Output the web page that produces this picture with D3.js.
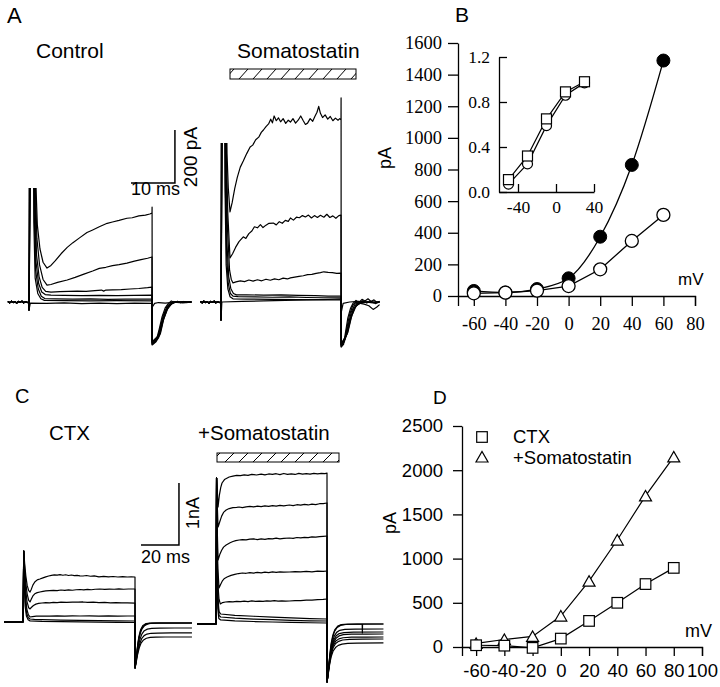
<!DOCTYPE html>
<html><head><meta charset="utf-8">
<script src="https://cdn.jsdelivr.net/npm/d3@7"></script>
<style>body{margin:0;background:#fff}svg{display:block}</style>
</head><body>
<script>
// ---------------- DATA ----------------
// Panel B: I-V (pA vs mV)
const ivVoltageB = [-60,-40,-20,0,20,40,60];
const ivSomaB = [32,22,44,112,375,829,1489];      // filled circles
const ivControlB = [17,21,34,63,169,348,513];     // open circles
const ticksBx = [-60,-40,-20,0,20,40,60,80];
const ticksBy = [0,200,400,600,800,1000,1200,1400,1600];
// Panel B inset: normalized activation
const insetVoltage = [-50,-30,-10,10,30];
const insetCircles = [0.07,0.25,0.59,0.86,0.97];
const insetSquares = [0.11,0.32,0.65,0.89,0.98];
const ticksInsetX = [-40,0,40];
const ticksInsetY = [0,0.4,0.8,1.2];
// Panel D: I-V
const ivVoltageD = [-60,-40,-20,0,20,40,60,80];
const ivCtxD = [20,15,-10,95,295,500,712,895];
const ivCtxSomaD = [40,85,120,350,745,1210,1710,2150];
const ticksDx = [-60,-40,-20,0,20,40,60,80,100];
const ticksDy = [0,500,1000,1500,2000,2500];
const legendD = ["CTX","+Somatostatin"];

// Panel A traces: [time ms, current pA]  (transients saturate and are clipped)
const preA = [[-4.8,2],[-4.4,-3],[-4,3],[-3.6,-2],[-3.2,1],[-2.8,-4],[-2.4,2],[-2,-1],[-1.6,3],[-1.2,-3],[-0.8,1],[-0.4,-2],[0,0]];
const ctlA1 = [[0,-30],[0.1,900],[1.4,900],[1.6,430],[1.9,290],[2.5,200],[3.2,150],[4.1,128],[5,138],[6,156],[7.3,182],[8.7,206],[10,224],[11.5,242],[13.2,262],[14.5,272],[16,284],[17.8,297],[19,302],[20.5,308],[22.3,316],[23.5,318],[25,325],[26.5,328],[27.5,332],[28,336],[28.02,358]];
const ctlA2 = [[0,-30],[0.2,900],[1.3,900],[1.5,400],[1.8,240],[2.4,140],[3.2,85],[4.1,64],[5,66],[6.5,74],[8.7,83],[10.5,93],[12.5,105],[14.5,117],[16,127],[17.5,131],[19,137],[20.5,141],[22.3,147],[24,154],[25.5,160],[27,165],[28,170]];
const ctlA3 = [[0,-30],[0.3,900],[1.2,900],[1.4,380],[1.7,180],[2.3,95],[3,55],[3.8,40],[5,37],[7,39],[9,40],[11,41],[13,40],[15,43],[16.5,45],[17,41],[17.5,45],[19,46],[21,47],[23,49],[25,51],[27,54],[28,56]];
const ctlA4 = [[0,-30],[0.4,900],[1.1,900],[1.3,360],[1.6,150],[2.2,70],[2.9,38],[3.7,28],[5,26],[8,25],[12,24],[16,25],[20,24],[24,25],[28,26]];
const ctlA5 = [[0,-30],[0.5,900],[1.0,900],[1.2,330],[1.5,120],[2.1,50],[2.8,22],[3.6,13],[6,12],[10,11],[14,12],[18,10],[22,11],[28,11]];
const ctlA6 = [[0,-30],[0.6,900],[0.9,900],[1.1,300],[1.4,90],[2,32],[2.7,12],[3.5,6],[8,5],[14,4],[20,5],[28,4]];
const ctlA7 = [[0,-30],[0.3,-4],[4,-5],[8,-3],[12,-6],[16,-4],[20,-6],[24,-4],[28,-5]];
const tailCtlA1 = [[28.04,-162],[28.9,-150],[29.6,-105],[30.3,-55],[31,-22],[31.7,-6],[32.4,4],[33.1,-2],[33.8,3],[34.5,-3],[35.2,2],[35.9,-2],[36.6,1],[37,0]];
const tailCtlA2 = [[28.04,-160],[29.1,-145],[29.9,-95],[30.6,-48],[31.4,-18],[32.2,-4],[33,2],[34,-1],[35,2],[36,-1],[37,1]];
const tailCtlA3 = [[28.04,-158],[29.3,-140],[30.1,-88],[30.9,-42],[31.7,-15],[32.6,-3],[33.5,1],[34.5,-2],[35.5,1],[37,0]];
const tailCtlA4 = [[28.04,-155],[29.5,-135],[30.3,-80],[31.1,-36],[32,-12],[33,-2],[34,1],[35.5,-1],[37,0]];
const tailCtlA5 = [[28.04,-152],[29.7,-128],[30.5,-72],[31.4,-30],[32.3,-8],[33.3,0],[35,1],[37,0]];
const tailCtlA6 = [[28.04,-150],[29.9,-120],[30.7,-62],[31.6,-24],[32.6,-5],[33.6,0],[37,0]];
const tailCtlA7 = [[28.04,-20],[28.6,-5],[29.5,-2],[31,-4],[33,-1],[35,-3],[37,-1]];

const somA1 = [[0,-68],[0.1,1200],[1.1,1200],[1.4,560],[1.7,430],[2.1,340],[2.6,375],[3.2,428],[3.8,470],[4.5,509],[5.2,532],[6,560],[6.8,585],[7.4,592],[8.1,612],[8.8,622],[9.4,640],[9.9,649],[10.5,662],[11.1,672],[11.6,690],[12,676],[12.4,702],[12.9,684],[13.4,695],[13.9,680],[14.5,692],[15.1,674],[15.7,686],[16.2,679],[16.8,692],[17.4,675],[18,686],[18.6,702],[19.2,684],[19.7,670],[20.2,675],[20.8,692],[21.4,682],[21.9,700],[22.4,716],[22.8,738],[23.2,712],[23.7,696],[24.3,706],[24.9,690],[25.5,700],[26.1,684],[26.7,694],[27.3,686],[27.7,692],[28,687],[28.02,770]];
const somA2 = [[0,-68],[0.2,1200],[1.0,1200],[1.3,520],[1.6,330],[2.1,166],[2.7,182],[3.4,206],[4.2,228],[5.2,246],[5.8,240],[6.5,258],[7.2,268],[7.8,284],[8.5,280],[9.2,292],[9.8,281],[10.5,290],[11.2,297],[12.2,298],[12.9,291],[13.6,303],[14.3,297],[15,308],[15.7,304],[16.2,317],[16.9,309],[17.6,320],[18.3,318],[19,326],[19.7,321],[20.4,328],[21.1,317],[21.8,326],[22.5,319],[23.2,327],[24,320],[24.7,331],[25.4,319],[26.1,325],[26.8,316],[27.5,326],[28,328]];
const somA3 = [[0,-68],[0.3,1200],[0.9,1200],[1.2,500],[1.5,280],[2,120],[2.4,85],[2.8,72],[3.5,76],[4.5,80],[5.5,77],[6.5,83],[7.5,79],[8.5,84],[9.5,80],[10.5,86],[11.5,82],[12.5,87],[13.5,84],[14.5,90],[15.5,87],[16.2,91],[17.2,94],[18.2,97],[19.2,99],[20.2,103],[21.2,104],[22.2,108],[23.2,111],[24,114],[25,112],[26,111],[27,108],[28,109]];
const somA4 = [[0,-68],[0.4,1200],[0.8,1200],[1.1,480],[1.4,220],[1.8,95],[2.3,50],[2.9,32],[3.6,27],[6,27],[10,26],[14,27],[18,25],[22,24],[25,22],[28,22]];
const somA5 = [[0,-68],[0.45,1200],[0.75,1200],[1.0,450],[1.3,180],[1.7,70],[2.2,32],[2.8,22],[4,20],[8,19],[12,18],[16,19],[20,17],[24,16],[28,16]];
const somA6 = [[0,-68],[0.5,1200],[0.7,1200],[0.95,420],[1.2,140],[1.6,50],[2.1,20],[2.8,12],[6,11],[12,10],[18,9],[24,8],[28,8]];
const somA7 = [[0,-68],[0.2,0],[5,2],[10,4],[15,6],[20,8],[25,10],[28,12]];
const tailSomA1 = [[28.04,-170],[28.6,-160],[29.1,-110],[29.6,-60],[30.2,-25],[30.8,-5],[31.5,6],[32.2,-2],[32.9,10],[33.6,4],[34.3,12],[35,2],[35.7,8],[36.4,-2],[37,3]];
const tailSomA2 = [[28.04,-168],[28.8,-150],[29.4,-95],[30,-48],[30.7,-15],[31.4,0],[32.2,-8],[33,5],[34,-4],[35,3],[36,-6],[37,0]];
const tailSomA3 = [[28.04,-165],[29,-140],[29.7,-85],[30.4,-38],[31.2,-10],[32,2],[33,-3],[34.2,2],[35.5,-2],[37,1]];
const tailSomA4 = [[28.04,-162],[29.2,-130],[30,-72],[30.8,-30],[31.7,-6],[32.8,2],[34,-1],[35.5,-3],[37,-1]];
const tailSomA5 = [[28.04,-160],[29.4,-122],[30.3,-62],[31.2,-22],[32.2,-4],[33.4,-8],[34.5,-14],[35.5,-28],[36.3,-20],[37,-10]];
const tailSomA6 = [[28.04,-158],[29.6,-115],[30.5,-52],[31.5,-16],[32.6,-2],[34,0],[37,0]];
const tailSomA7 = [[28.04,-40],[28.5,-5],[30,0],[32,2],[34,-1],[37,0]];

// Panel C traces: [time ms, current pA]
const preC = [[-10,0],[0,0]];
const ctx1 = [[0,0],[0.4,1145],[0.9,930],[1.5,740],[2.2,590],[3,505],[3.7,484],[4.4,530],[5.2,595],[6.2,645],[7.5,680],[8.9,694],[10.5,712],[12,728],[13.5,742],[15,752],[16.5,760],[18,756],[19.5,764],[21,754],[22.5,762],[24,750],[25.5,758],[27,748],[28.5,752],[30,744],[31.6,742],[33.5,750],[35.5,738],[37.5,744],[40,728],[42.5,736],[45,728],[47.5,734],[50,726],[52.5,732],[55,726],[57,730],[59,726]];
const ctx2 = [[0,0],[0.4,1145],[0.9,860],[1.5,620],[2.2,450],[3,350],[3.7,323],[4.4,370],[5.2,420],[6.2,455],[7.5,474],[8.9,484],[10.5,495],[12,502],[14,506],[16,510],[18,505],[20,516],[22,510],[24,518],[26,512],[28,520],[30,524],[32,518],[34,526],[36,520],[38,528],[40.5,532],[43,526],[45.5,530],[48,528],[50.5,534],[53,528],[55.5,532],[59,532]];
const ctx3 = [[0,0],[0.4,1145],[0.8,820],[1.4,520],[2.1,330],[3,230],[3.7,210],[4.5,238],[5.5,265],[6.8,288],[8.2,300],[10,306],[12,312],[14,308],[16,316],[18,313],[20,320],[23,316],[26,322],[29,320],[31.6,323],[34,318],[37,320],[40,314],[43,316],[46,310],[49,312],[52,308],[55,310],[59,306]];
const ctx4 = [[0,0],[0.4,1145],[0.75,760],[1.3,420],[2,210],[2.8,120],[3.7,81],[5,88],[7,94],[10,97],[14,95],[18,100],[22,96],[26,99],[30,97],[35,99],[40,96],[45,98],[50,95],[55,97],[59,97]];
const ctx5 = [[0,0],[0.4,1145],[0.7,700],[1.2,330],[1.9,140],[2.8,70],[3.7,48],[6,42],[10,38],[15,34],[20,30],[30,25],[40,21],[50,18],[59,16]];
const ctx6 = [[0,0],[0.4,1145],[0.65,650],[1.1,260],[1.8,95],[2.7,36],[3.7,18],[10,10],[20,5],[30,1],[40,-3],[50,-6],[59,-8]];
const tailCtx1 = [[59.05,-742],[59.7,-640],[60.4,-520],[61.2,-420],[62.2,-340],[63.5,-290],[65,-262],[67,-248],[70,-243],[75,-242],[89,-242]];
const tailCtx2 = [[59.05,-742],[59.8,-600],[60.6,-460],[61.5,-350],[62.5,-270],[63.8,-220],[65.3,-195],[67.5,-182],[71,-178],[78,-177],[89,-177]];
const tailCtx3 = [[59.05,-742],[59.9,-560],[60.7,-400],[61.6,-280],[62.6,-195],[63.9,-140],[65.5,-115],[67.8,-103],[72,-98],[80,-97],[89,-97]];
const tailCtx4 = [[59.05,-742],[60,-500],[60.8,-320],[61.7,-190],[62.7,-110],[64,-60],[65.7,-32],[68,-20],[72,-16],[89,-16]];
const tailCtx5 = [[59.05,-742],[60.1,-460],[60.9,-280],[61.9,-150],[63,-80],[64.5,-38],[66.5,-22],[70,-17],[89,-16]];
const tailCtx6 = [[59.05,-742],[60.2,-420],[61,-240],[62,-120],[63.2,-55],[64.8,-25],[67,-18],[71,-16],[89,-16]];

const somC1 = [[0,0],[0.3,2355],[0.7,2150],[1.1,1887],[1.8,2080],[2.5,2200],[3.2,2274],[4.5,2330],[7,2371],[9,2385],[11,2398],[13,2392],[15,2405],[17,2398],[19,2412],[21.5,2403],[24,2418],[26,2406],[28,2420],[30,2412],[32,2424],[34,2410],[36,2428],[38,2414],[40,2422],[42,2412],[44,2430],[46,2418],[48,2426],[50,2416],[52,2430],[54,2420],[56,2428],[58,2426],[59,2435]];
const somC2 = [[0,0],[0.3,2355],[0.7,1900],[1.1,1565],[2,1650],[3,1740],[4,1800],[5.4,1839],[7,1862],[9,1876],[11,1882],[12.3,1887],[14,1878],[16,1890],[18,1896],[20,1888],[22,1902],[24,1892],[26,1906],[28,1898],[30,1910],[32,1900],[34,1914],[36,1905],[39,1919],[41,1910],[43,1924],[45,1916],[47,1930],[49,1920],[51,1934],[53,1926],[55,1940],[57,1942],[59,1952]];
const somC3 = [[0,0],[0.3,2355],[0.6,1600],[1.1,1032],[2,1120],[3,1190],[4,1240],[5.4,1274],[7.5,1310],[9,1330],[10.5,1345],[12.3,1355],[14,1362],[16,1356],[18,1368],[20,1372],[22,1362],[24,1374],[26,1366],[28,1378],[30,1372],[32,1384],[34,1374],[36,1382],[39,1387],[41,1380],[43,1395],[45,1388],[47,1398],[49,1392],[51,1406],[53,1400],[55,1410],[57,1414],[59,1419]];
const somC4 = [[0,0],[0.3,2355],[0.6,1400],[1,900],[1.6,581],[2.5,640],[3.5,700],[4.5,735],[5.9,758],[8,785],[10,800],[12,814],[14,823],[16,818],[18,830],[20,822],[22,832],[24,826],[26,836],[28,830],[30,840],[32,832],[34,842],[36,836],[39,839],[42,846],[45,840],[48,848],[51,842],[54,852],[57,848],[59,855]];
const somC5 = [[0,0],[0.3,2355],[0.6,1200],[1,650],[1.6,400],[2.3,323],[3.5,345],[5,355],[7,362],[9,356],[11,366],[13,360],[15,368],[17,362],[19,372],[21,364],[23,370],[25,366],[27,374],[29,368],[31,376],[33,370],[35,374],[37,368],[39,371],[42,378],[45,376],[48,384],[51,386],[54,394],[57,398],[59,403]];
const somC6 = [[0,0],[0.3,2355],[0.6,1000],[1,450],[1.6,200],[2.5,161],[10,140],[20,125],[30,110],[40,98],[50,88],[59,81]];
const somC7 = [[0,0],[0.3,2355],[0.6,900],[1,350],[1.6,140],[2.5,113],[10,95],[20,80],[30,70],[40,60],[50,52],[59,48]];
const somC8 = [[0,0],[0.3,2355],[0.55,800],[0.95,250],[1.5,90],[2.5,65],[10,50],[20,40],[30,32],[40,25],[50,20],[59,16]];
const tailSomC1 = [[59.05,-935],[59.7,-800],[60.4,-650],[61.2,-530],[62.2,-440],[63.5,-380],[65,-345],[67,-325],[70,-314],[75,-309],[89,-306]];
const tailSomC2 = [[59.05,-935],[59.8,-770],[60.5,-610],[61.3,-480],[62.3,-380],[63.6,-315],[65.2,-280],[67.3,-258],[71,-248],[78,-244],[89,-242]];
const tailSomC3 = [[59.05,-935],[59.85,-740],[60.6,-570],[61.4,-440],[62.4,-340],[63.7,-275],[65.3,-240],[67.5,-222],[72,-213],[80,-211],[89,-210]];
const tailSomC4 = [[59.05,-935],[59.9,-710],[60.7,-530],[61.5,-400],[62.5,-300],[63.8,-230],[65.4,-192],[67.7,-172],[72,-164],[80,-162],[89,-161]];
const tailSomC5 = [[59.05,-935],[60,-680],[60.8,-490],[61.6,-360],[62.6,-260],[63.9,-190],[65.5,-155],[68,-138],[73,-131],[89,-129]];
const tailSomC6 = [[59.05,-935],[60.1,-640],[60.9,-440],[61.8,-300],[62.8,-200],[64.1,-135],[65.8,-102],[68.5,-88],[74,-82],[89,-81]];
const tailSomC7 = [[59.05,-935],[60.2,-600],[61,-380],[62,-220],[63,-120],[64.4,-55],[66.2,-22],[69,-8],[75,-2],[89,0]];
const tailSomC8 = [[59.05,-935],[60.3,-560],[61.1,-330],[62.1,-180],[63.2,-90],[64.7,-35],[66.6,-10],[70,-2],[77.7,0],[77.8,-145],[77.9,0],[89,0]];

// ---------------- DRAWING ----------------
const W = 720, H = 687;
const SANS = "'Liberation Sans', Arial, Helvetica, sans-serif";
const SERIF = "'Liberation Serif', 'Times New Roman', Times, serif";
const svg = d3.select("body").append("svg").attr("width", W).attr("height", H)
  .style("background", "#fff");

function txt(x, y, s, size, opts = {}) {
  const t = svg.append("text").attr("x", x).attr("y", y).text(s)
    .style("font-family", opts.family || SANS).style("font-size", size + "px").attr("fill", "#000");
  if (opts.anchor) t.attr("text-anchor", opts.anchor);
  if (opts.rotate) t.attr("transform", `rotate(-90 ${x} ${y})`).attr("text-anchor", "middle");
  return t;
}

// hatch patterns
const defs = svg.append("defs");
function hatchPattern(id, y0, h) {
  const p = defs.append("pattern").attr("id", id).attr("patternUnits", "userSpaceOnUse")
    .attr("width", 14).attr("height", h).attr("y", y0).attr("x", 0);
  p.append("line").attr("x1", 1).attr("y1", h).attr("x2", 10).attr("y2", 0)
    .attr("stroke", "#000").attr("stroke-width", 1);
}
hatchPattern("hatchA", 69, 10);
hatchPattern("hatchC", 453, 9);

// clip regions for the saturated capacitive transients in panel A
function clipRects(id, rects) {
  const c = defs.append("clipPath").attr("id", id);
  rects.forEach(r => c.append("rect").attr("x", r[0]).attr("y", r[1]).attr("width", r[2]).attr("height", r[3]));
}
clipRects("clipCtlA", [[0, 188, 200, 220]]);
clipRects("clipSomA", [[195, 143, 33, 260], [228, 0, 170, 400]]);

function traceLayer(xs, ys, clip) {
  const g = svg.append("g");
  if (clip) g.attr("clip-path", `url(#${clip})`);
  const line = d3.line().x(d => xs(d[0])).y(d => ys(d[1]));
  return (pts) => g.append("path").attr("d", line(pts)).attr("fill", "none")
    .attr("stroke", "#000").attr("stroke-width", 1.2).attr("stroke-linejoin", "round");
}

// ---- Panel A ----
txt(7, 23, "A", 22);
txt(36, 58, "Control", 21);
txt(237, 58, "Somatostatin", 21);
svg.append("rect").attr("x", 230).attr("y", 69).attr("width", 126).attr("height", 10)
  .attr("fill", "url(#hatchA)").attr("stroke", "#000").attr("stroke-width", 1);

const xCtlA = d3.scaleLinear().domain([0, 28]).range([29, 152]);
const xSomA = d3.scaleLinear().domain([0, 28]).range([221, 341]);
const yA = d3.scaleLinear().domain([0, 200]).range([302, 249]);
const drawCtlA = traceLayer(xCtlA, yA, "clipCtlA");
[[ctlA1, tailCtlA1], [ctlA2, tailCtlA2], [ctlA3, tailCtlA3], [ctlA4, tailCtlA4],
 [ctlA5, tailCtlA5], [ctlA6, tailCtlA6], [ctlA7, tailCtlA7]]
  .forEach(([p, t]) => drawCtlA(preA.concat(p, t)));
const drawSomA = traceLayer(xSomA, yA, "clipSomA");
[[somA1, tailSomA1], [somA2, tailSomA2], [somA3, tailSomA3], [somA4, tailSomA4],
 [somA5, tailSomA5], [somA6, tailSomA6], [somA7, tailSomA7]]
  .forEach(([p, t]) => drawSomA(preA.concat(p, t)));

// scale bar A (10 ms, 200 pA)
{
  const x0 = 131, y0 = 183;
  const dx = xCtlA(10) - xCtlA(0), dy = yA(0) - yA(200);
  svg.append("path").attr("d", `M${x0},${y0}H${x0 + dx}V${y0 - dy}`)
    .attr("fill", "none").attr("stroke", "#000").attr("stroke-width", 1.5);
  txt(x0, 195, "10 ms", 18);
  txt(197, 157, "200 pA", 19, { rotate: true });
}

// ---- Panel C ----
txt(15, 403, "C", 20);
txt(49, 440, "CTX", 20.5);
txt(198, 440, "+Somatostatin", 20.5);
svg.append("rect").attr("x", 217).attr("y", 453).attr("width", 122).attr("height", 9)
  .attr("fill", "url(#hatchC)").attr("stroke", "#000").attr("stroke-width", 1);

const xCtxC = d3.scaleLinear().domain([0, 59]).range([23, 135]);
const yCtxC = d3.scaleLinear().domain([0, 1000]).range([622, 560]);
const xSomC = d3.scaleLinear().domain([0, 59]).range([216, 327]);
const ySomC = d3.scaleLinear().domain([0, 1000]).range([624, 562]);
const drawCtx = traceLayer(xCtxC, yCtxC);
[[ctx1, tailCtx1], [ctx2, tailCtx2], [ctx3, tailCtx3], [ctx4, tailCtx4], [ctx5, tailCtx5], [ctx6, tailCtx6]]
  .forEach(([p, t]) => drawCtx(preC.concat(p, t)));
const drawSomC = traceLayer(xSomC, ySomC);
[[somC1, tailSomC1], [somC2, tailSomC2], [somC3, tailSomC3], [somC4, tailSomC4],
 [somC5, tailSomC5], [somC6, tailSomC6], [somC7, tailSomC7], [somC8, tailSomC8]]
  .forEach(([p, t]) => drawSomC(preC.concat(p, t)));

// scale bar C (20 ms, 1 nA)
{
  const x0 = 141, y0 = 545;
  const dx = xCtxC(20) - xCtxC(0), dy = yCtxC(0) - yCtxC(1000);
  svg.append("path").attr("d", `M${x0},${y0}H${x0 + dx}V${y0 - dy}`)
    .attr("fill", "none").attr("stroke", "#000").attr("stroke-width", 1.5);
  txt(x0, 563, "20 ms", 18);
  txt(199, 513, "1nA", 18, { rotate: true });
}

function styleAxis(g, family, size) {
  g.attr("font-family", null).attr("font-size", null);
  g.select(".domain").attr("stroke", "#000").attr("stroke-width", 1.3);
  g.selectAll(".tick line").attr("stroke", "#000").attr("stroke-width", 1.3);
  g.selectAll("text").style("font-family", family).style("font-size", size + "px").attr("fill", "#000");
}

// ---- Panel B ----
txt(455, 22, "B", 21);
const xB = d3.scaleLinear().domain([-70, 80]).range([458, 695]);
const yB = d3.scaleLinear().domain([0, 1600]).range([296, 43]);
{
  const gx = svg.append("g").attr("transform", `translate(0,${yB(0)})`)
    .call(d3.axisBottom(xB).tickValues(ticksBx).tickSize(10).tickSizeOuter(10).tickPadding(11).tickFormat(d => String(d)));
  styleAxis(gx, SERIF, 18.5);
  const gy = svg.append("g").attr("transform", `translate(${xB(-70)},0)`)
    .call(d3.axisLeft(yB).tickValues(ticksBy).tickSize(10).tickSizeOuter(0).tickPadding(6).tickFormat(d => String(d)));
  styleAxis(gy, SERIF, 18.5);
  txt(391, 158, "pA", 18, { rotate: true });
  txt(678, 285, "mV", 17);

  const lineSoma = d3.line().x((d, i) => xB(ivVoltageB[i])).y(d => yB(d)).curve(d3.curveMonotoneX);
  const lineCtl = d3.line().x((d, i) => xB(ivVoltageB[i])).y(d => yB(d));
  svg.append("path").attr("d", lineSoma(ivSomaB)).attr("fill", "none").attr("stroke", "#000").attr("stroke-width", 1.3);
  svg.append("path").attr("d", lineCtl(ivControlB)).attr("fill", "none").attr("stroke", "#000").attr("stroke-width", 1.3);
  svg.append("g").selectAll("circle").data(ivSomaB).join("circle")
    .attr("cx", (d, i) => xB(ivVoltageB[i])).attr("cy", d => yB(d)).attr("r", 6.5)
    .attr("fill", "#000").attr("stroke", "#000");
  svg.append("g").selectAll("circle").data(ivControlB).join("circle")
    .attr("cx", (d, i) => xB(ivVoltageB[i])).attr("cy", d => yB(d)).attr("r", 6.5)
    .attr("fill", "#fff").attr("stroke", "#000").attr("stroke-width", 1.3);

  // inset
  const xI = d3.scaleLinear().domain([-60, 40]).range([499, 594]);
  const yI = d3.scaleLinear().domain([0, 1.2]).range([192, 57]);
  const gix = svg.append("g").attr("transform", `translate(0,${yI(0)})`)
    .call(d3.axisBottom(xI).tickValues(ticksInsetX).tickSize(-8).tickSizeOuter(0).tickPadding(9).tickFormat(d => String(d)));
  styleAxis(gix, SERIF, 17.5);
  const giy = svg.append("g").attr("transform", `translate(${xI(-60)},0)`)
    .call(d3.axisLeft(yI).tickValues(ticksInsetY).tickSize(-8).tickSizeOuter(0).tickPadding(9).tickFormat(d3.format(".1f")));
  styleAxis(giy, SERIF, 17.5);
  const lI = d3.line().x((d, i) => xI(insetVoltage[i])).y(d => yI(d));
  svg.append("path").attr("d", lI(insetCircles)).attr("fill", "none").attr("stroke", "#000").attr("stroke-width", 1.2);
  svg.append("path").attr("d", lI(insetSquares)).attr("fill", "none").attr("stroke", "#000").attr("stroke-width", 1.2);
  svg.append("g").selectAll("circle").data(insetCircles).join("circle")
    .attr("cx", (d, i) => xI(insetVoltage[i])).attr("cy", d => yI(d)).attr("r", 5)
    .attr("fill", "#fff").attr("stroke", "#000").attr("stroke-width", 1.2);
  svg.append("g").selectAll("rect").data(insetSquares).join("rect")
    .attr("x", (d, i) => xI(insetVoltage[i]) - 5).attr("y", d => yI(d) - 5)
    .attr("width", 10).attr("height", 10)
    .attr("fill", "#fff").attr("stroke", "#000").attr("stroke-width", 1.2);
}

// ---- Panel D ----
txt(433, 404, "D", 19);
const xD = d3.scaleLinear().domain([-70, 100]).range([462, 702]);
const yD = d3.scaleLinear().domain([0, 2500]).range([647, 426]);
{
  const gx = svg.append("g").attr("transform", `translate(0,${yD(0)})`)
    .call(d3.axisBottom(xD).tickValues(ticksDx).tickSize(9).tickSizeOuter(9).tickPadding(8).tickFormat(d => String(d)));
  styleAxis(gx, SANS, 18.5);
  const gy = svg.append("g").attr("transform", `translate(${xD(-70)},0)`)
    .call(d3.axisLeft(yD).tickValues(ticksDy).tickSize(9).tickSizeOuter(0).tickPadding(10).tickFormat(d => String(d)));
  styleAxis(gy, SANS, 18.5);
  txt(396, 523, "pA", 18, { rotate: true });
  txt(685, 637, "mV", 18);

  const lD = d3.line().x((d, i) => xD(ivVoltageD[i])).y(d => yD(d));
  svg.append("path").attr("d", lD(ivCtxSomaD)).attr("fill", "none").attr("stroke", "#000").attr("stroke-width", 1.2);
  svg.append("path").attr("d", lD(ivCtxD)).attr("fill", "none").attr("stroke", "#000").attr("stroke-width", 1.2);
  const tri = (cx, cy) => `M${cx - 6},${cy + 5}L${cx + 6},${cy + 5}L${cx},${cy - 5.5}Z`;
  svg.append("g").selectAll("path").data(ivCtxSomaD).join("path")
    .attr("d", (d, i) => tri(xD(ivVoltageD[i]), yD(d)))
    .attr("fill", "#fff").attr("stroke", "#000").attr("stroke-width", 1.2);
  svg.append("g").selectAll("rect").data(ivCtxD).join("rect")
    .attr("x", (d, i) => xD(ivVoltageD[i]) - 5.3).attr("y", d => yD(d) - 5.3)
    .attr("width", 10.6).attr("height", 10.6)
    .attr("fill", "#fff").attr("stroke", "#000").attr("stroke-width", 1.2);

  // legend
  svg.append("rect").attr("x", 482 - 5.3).attr("y", 437 - 5.3).attr("width", 10.6).attr("height", 10.6)
    .attr("fill", "#fff").attr("stroke", "#000").attr("stroke-width", 1.2);
  svg.append("path").attr("d", tri(482, 457)).attr("fill", "#fff").attr("stroke", "#000").attr("stroke-width", 1.2);
  txt(513, 443, legendD[0], 18.5);
  txt(513, 464, legendD[1], 18.5);
}
</script>
</body></html>
